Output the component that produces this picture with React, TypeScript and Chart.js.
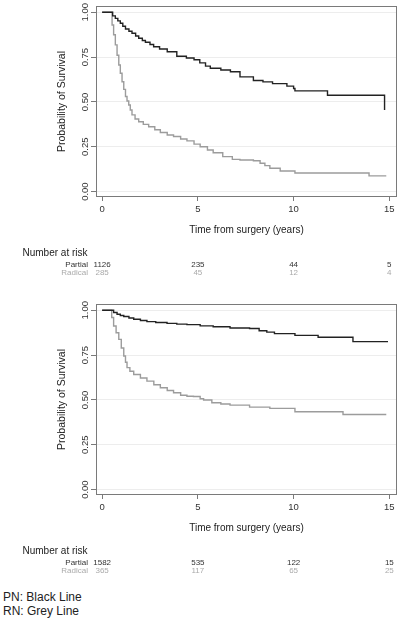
import React, { useEffect, useRef } from "react";
import { Chart, registerables } from "chart.js";

Chart.register(...registerables);

const FONT = "'Liberation Sans', Arial, Helvetica, sans-serif";

// Axis ticks
const xTicks = [0, 5, 10, 15];
const yTicks = [0, 0.25, 0.5, 0.75, 1];
const yTickLabels = ["0.00", "0.25", "0.50", "0.75", "1.00"];

// Number-at-risk
const riskTimes = [0, 5, 10, 15];
const riskPartialTop = [1126, 235, 44, 5];
const riskRadicalTop = [285, 45, 12, 4];
const riskPartialBottom = [1582, 535, 122, 15];
const riskRadicalBottom = [365, 117, 65, 25];

// Top panel - Partial (black)
const topPartialT = [0, 0.43, 0.55, 0.69, 0.82, 0.95, 1.08, 1.22, 1.4, 1.56, 1.75, 1.91, 2.1, 2.26, 2.5, 2.69, 3.0, 3.4, 3.9, 4.4, 4.8, 5.1, 5.4, 5.65, 6.2, 6.7, 7.2, 7.9, 8.4, 8.9, 9.65, 10.0, 10.07, 11.77, 14.75];
const topPartialS = [1, 1, 0.98, 0.966, 0.952, 0.939, 0.922, 0.907, 0.894, 0.883, 0.868, 0.855, 0.843, 0.833, 0.82, 0.808, 0.795, 0.78, 0.755, 0.745, 0.735, 0.718, 0.7, 0.688, 0.678, 0.668, 0.64, 0.62, 0.612, 0.602, 0.588, 0.575, 0.562, 0.537, 0.455];

// Top panel - Radical (grey)
const topRadicalT = [0, 0.43, 0.52, 0.6, 0.69, 0.78, 0.87, 0.95, 1.04, 1.13, 1.22, 1.3, 1.39, 1.47, 1.56, 1.72, 1.91, 2.15, 2.43, 2.75, 3.04, 3.4, 3.73, 4.1, 4.43, 4.8, 5.12, 5.5, 5.8, 6.3, 6.8, 7.2, 7.9, 8.25, 8.5, 8.76, 9.3, 10.07, 13.94, 14.84];
const topRadicalS = [1, 1, 0.929, 0.875, 0.818, 0.76, 0.706, 0.66, 0.613, 0.57, 0.53, 0.505, 0.483, 0.455, 0.428, 0.405, 0.39, 0.375, 0.362, 0.345, 0.33, 0.316, 0.307, 0.293, 0.283, 0.265, 0.25, 0.232, 0.217, 0.195, 0.18, 0.176, 0.172, 0.158, 0.145, 0.13, 0.115, 0.104, 0.088, 0.088];

// Bottom panel - Partial (black)
const botPartialT = [0, 0.43, 0.6, 0.78, 0.95, 1.13, 1.4, 1.65, 2.0, 2.34, 2.8, 3.39, 3.9, 4.43, 5.12, 5.8, 6.68, 7.7, 8.2, 8.6, 9.0, 10.07, 11.28, 13.1, 14.93];
const botPartialS = [1, 1, 0.988, 0.978, 0.971, 0.965, 0.957, 0.95, 0.943, 0.937, 0.932, 0.927, 0.923, 0.92, 0.913, 0.908, 0.901, 0.898, 0.886, 0.878, 0.87, 0.86, 0.85, 0.825, 0.825];

// Bottom panel - Radical (grey)
const botRadicalT = [0, 0.38, 0.5, 0.6, 0.73, 0.87, 1.0, 1.13, 1.22, 1.3, 1.45, 1.65, 2.0, 2.34, 2.7, 3.04, 3.4, 3.73, 4.1, 4.43, 4.77, 5.12, 5.3, 5.73, 6.2, 6.68, 7.7, 8.76, 10.07, 12.58, 14.84];
const botRadicalS = [1, 1, 0.96, 0.912, 0.875, 0.838, 0.79, 0.745, 0.71, 0.68, 0.66, 0.642, 0.622, 0.605, 0.585, 0.568, 0.553, 0.54, 0.526, 0.521, 0.519, 0.507, 0.5, 0.484, 0.477, 0.471, 0.46, 0.453, 0.434, 0.419, 0.419];

const BLACK = "#222222";
const GREY = "#9c9c9c";

type Props = {
  top: number;
  partialT: number[];
  partialS: number[];
  radicalT: number[];
  radicalS: number[];
  riskPartial: number[];
  riskRadical: number[];
};

function KMChart({ top, partialT, partialS, radicalT, radicalS, riskPartial, riskRadical }: Props) {
  const ref = useRef<HTMLCanvasElement>(null);

  useEffect(() => {
    const canvas = ref.current!;
    const textPlugin = {
      id: "kmText",
      beforeDatasetsDraw(chart: any) {
        const { ctx, chartArea: a } = chart;
        ctx.save();
        ctx.strokeStyle = "#7a7a7a";
        ctx.lineWidth = 1;
        ctx.strokeRect(a.left + 0.5, a.top + 0.5, a.right - a.left - 1, a.bottom - a.top - 1);
        ctx.restore();
      },
      afterDraw(chart: any) {
        const { ctx, chartArea: a } = chart;
        const xs = chart.scales.x;
        const ys = chart.scales.y;
        ctx.save();
        // rotated y tick labels
        ctx.fillStyle = "#333";
        ctx.font = `9.5px ${FONT}`;
        ctx.textAlign = "center";
        ctx.textBaseline = "middle";
        yTicks.forEach((v, i) => {
          const y = ys.getPixelForValue(v);
          ctx.save();
          ctx.translate(85, y);
          ctx.rotate(-Math.PI / 2);
          ctx.fillText(yTickLabels[i], 0, 0);
          ctx.restore();
        });
        // y title
        ctx.fillStyle = "#222";
        ctx.font = `10.5px ${FONT}`;
        ctx.save();
        ctx.translate(62, (a.top + a.bottom) / 2);
        ctx.rotate(-Math.PI / 2);
        ctx.fillText("Probability of Survival", 0, 0);
        ctx.restore();
        // risk table
        ctx.textAlign = "right";
        ctx.font = `10px ${FONT}`;
        ctx.fillStyle = "#222";
        ctx.fillText("Number at risk", 87.5, 253);
        ctx.font = `8px ${FONT}`;
        ctx.fillStyle = "#333";
        ctx.fillText("Partial", 88, 264.5);
        ctx.fillStyle = "#aaa";
        ctx.fillText("Radical", 88, 273);
        ctx.textAlign = "center";
        riskTimes.forEach((t, i) => {
          const x = xs.getPixelForValue(t);
          ctx.fillStyle = "#333";
          ctx.fillText(String(riskPartial[i]), x, 264.5);
          ctx.fillStyle = "#aaa";
          ctx.fillText(String(riskRadical[i]), x, 273);
        });
        ctx.restore();
      },
    };

    const chart = new Chart(canvas, {
      type: "line",
      data: {
        datasets: [
          {
            label: "Partial",
            data: partialT.map((t, i) => ({ x: t, y: partialS[i] })),
            borderColor: BLACK,
            borderWidth: 1.4,
            stepped: "before",
            pointRadius: 0,
            fill: false,
          },
          {
            label: "Radical",
            data: radicalT.map((t, i) => ({ x: t, y: radicalS[i] })),
            borderColor: GREY,
            borderWidth: 1.4,
            stepped: "before",
            pointRadius: 0,
            fill: false,
          },
        ],
      },
      options: {
        animation: false,
        responsive: false,
        maintainAspectRatio: false,
        layout: { padding: { top: 6, left: 0, right: 3, bottom: 54 } },
        plugins: { legend: { display: false }, tooltip: { enabled: false } },
        scales: {
          x: {
            type: "linear",
            min: -0.32,
            max: 15.4,
            afterBuildTicks: (s: any) => {
              s.ticks = xTicks.map((v) => ({ value: v }));
            },
            afterFit: (s: any) => {
              s.height = 39;
            },
            grid: { drawOnChartArea: false, drawTicks: true, tickLength: 4, tickColor: "#7a7a7a", color: "#7a7a7a" },
            border: { display: false },
            ticks: { font: { family: FONT, size: 9.5 }, color: "#333", padding: 3, maxRotation: 0 },
            title: {
              display: true,
              text: "Time from surgery (years)",
              font: { family: FONT, size: 10 },
              color: "#222",
              padding: 0,
            },
          },
          y: {
            type: "linear",
            min: -0.03,
            max: 1.035,
            afterBuildTicks: (s: any) => {
              s.ticks = yTicks.map((v) => ({ value: v }));
            },
            afterFit: (s: any) => {
              s.width = 96;
            },
            grid: { color: "#ededed", tickColor: "#7a7a7a", tickLength: 5, drawTicks: true },
            border: { display: false },
            ticks: { display: false },
          },
        },
      } as any,
      plugins: [textPlugin],
    });
    return () => chart.destroy();
  }, []);

  return (
    <canvas
      ref={ref}
      width={400}
      height={290}
      style={{ position: "absolute", left: 0, top, width: 400, height: 290 }}
    />
  );
}

export default function App() {
  return (
    <div style={{ position: "absolute", left: 0, top: 0, width: 400, height: 621, background: "#fff", overflow: "hidden" }}>
      <KMChart
        top={0}
        partialT={topPartialT}
        partialS={topPartialS}
        radicalT={topRadicalT}
        radicalS={topRadicalS}
        riskPartial={riskPartialTop}
        riskRadical={riskRadicalTop}
      />
      <KMChart
        top={298}
        partialT={botPartialT}
        partialS={botPartialS}
        radicalT={botRadicalT}
        radicalS={botRadicalS}
        riskPartial={riskPartialBottom}
        riskRadical={riskRadicalBottom}
      />
      <div style={{ position: "absolute", left: 3, top: 590, fontFamily: FONT, fontSize: 12, lineHeight: "14px", color: "#222", whiteSpace: "nowrap" }}>
        PN: Black Line
      </div>
      <div style={{ position: "absolute", left: 3, top: 603.5, fontFamily: FONT, fontSize: 12, lineHeight: "14px", color: "#222", whiteSpace: "nowrap" }}>
        RN: Grey Line
      </div>
    </div>
  );
}
